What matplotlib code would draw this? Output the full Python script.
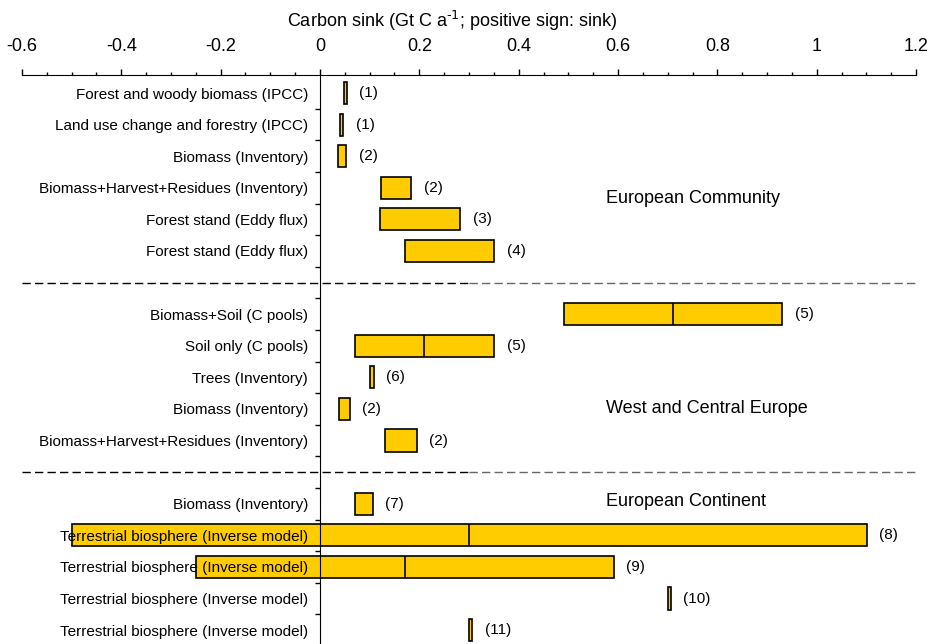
import numpy as np
import matplotlib
matplotlib.use('Agg')
import matplotlib.pyplot as plt
from matplotlib.ticker import FuncFormatter, MultipleLocator

plt.rcParams['font.family'] = ['Liberation Sans', 'DejaVu Sans']
plt.rcParams['mathtext.default'] = 'regular'
plt.rcParams['axes.unicode_minus'] = False

# 数据：三个区域，每行一个估计区间（最小值、最大值、中值）
regions = ['European Community', 'West and Central Europe', 'European Continent']
labels = [
    ['Forest and woody biomass (IPCC)', 'Land use change and forestry (IPCC)',
     'Biomass (Inventory)', 'Biomass+Harvest+Residues (Inventory)',
     'Forest stand (Eddy flux)', 'Forest stand (Eddy flux)'],
    ['Biomass+Soil (C pools)', 'Soil only (C pools)', 'Trees (Inventory)',
     'Biomass (Inventory)', 'Biomass+Harvest+Residues (Inventory)'],
    ['Biomass (Inventory)', 'Terrestrial biosphere (Inverse model)',
     'Terrestrial biosphere (Inverse model)', 'Terrestrial biosphere (Inverse model)',
     'Terrestrial biosphere (Inverse model)'],
]
lo = [
    [0.048, 0.041, 0.036, 0.123, 0.120, 0.171],
    [0.491, 0.071, 0.101, 0.039, 0.131],
    [0.071, -0.500, -0.249, 0.700, 0.300],
]
hi = [
    [0.054, 0.047, 0.053, 0.184, 0.282, 0.351],
    [0.931, 0.351, 0.108, 0.060, 0.195],
    [0.106, 1.101, 0.591, 0.706, 0.307],
]
med = [
    [np.nan] * 6,
    [0.711, 0.210, np.nan, np.nan, np.nan],
    [np.nan, 0.300, 0.171, np.nan, np.nan],
]
refs = [
    ['(1)', '(1)', '(2)', '(2)', '(3)', '(4)'],
    ['(5)', '(5)', '(6)', '(2)', '(2)'],
    ['(7)', '(8)', '(9)', '(10)', '(11)'],
]

# 行位置：每个区域之间空出一行放虚线
rows, seps = [], []
pos = 0
for g in labels:
    rows.append(np.arange(pos, pos + len(g)))
    pos += len(g)
    seps.append(pos)
    pos += 1
seps = seps[:-1]

fig = plt.figure(figsize=(9.35, 6.44), dpi=100)
ax = fig.add_axes([22 / 935, 0, 894 / 935, 569 / 644])

yellow = '#FFCC00'
for r, l, h, m, t in zip(rows, lo, hi, med, refs):
    l = np.array(l)
    h = np.array(h)
    m = np.array(m)
    ax.barh(r, h - l, left=l, height=0.7, color=yellow, edgecolor='black', linewidth=1.2, zorder=1)
    ok = ~np.isnan(m)
    ax.vlines(m[ok], r[ok] - 0.35, r[ok] + 0.35, color='black', linewidth=1.2, zorder=1.5)
    for yy, xx, s in zip(r, h, t):
        ax.annotate(s, (xx, yy), xytext=(9, 0), textcoords='offset points',
                    va='center', ha='left', fontsize=11)

# 分隔虚线
for s in seps:
    ax.hlines(s, -0.6, 0.3, colors='black', linestyles=(0, (6, 3)), linewidth=1.0)
    ax.hlines(s, 0.3, 1.2, colors='#666666', linestyles=(0, (6, 3)), linewidth=1.0)

# 区域名称
region_y = [3.35, 10.0, 12.94]
for name, yy in zip(regions, region_y):
    ax.text(0.575, yy, name, fontsize=13, va='center', ha='left')

ax.set_xlim(-0.6, 1.2)
ax.set_ylim(17.44, -0.57)

# x 轴在上方
ax.xaxis.tick_top()
ax.xaxis.set_label_position('top')
ax.xaxis.set_major_locator(MultipleLocator(0.2))
ax.xaxis.set_minor_locator(MultipleLocator(0.05))
ax.xaxis.set_major_formatter(FuncFormatter(lambda v, p: f'{v:.1f}'.rstrip('0').rstrip('.') if abs(v) > 1e-9 else '0'))
ax.tick_params(axis='x', which='major', direction='out', length=4.5, width=1, labelsize=13, pad=10)
ax.tick_params(axis='x', which='minor', direction='out', length=2.5, width=1)
ax.set_xlabel(r'Carbon sink (Gt C a$^{\text{-1}}$; positive sign: sink)', fontsize=13, labelpad=8)
ax.xaxis.label.set_x((452 - 22) / 894)

# y 轴放在 x=0 处
all_rows = np.concatenate(rows)
all_labels = sum(labels, [])
ax.spines['left'].set_position(('data', 0))
ax.spines['right'].set_visible(False)
ax.spines['bottom'].set_visible(False)
ax.set_yticks(np.arange(0.5, 17, 1.0))
ax.set_yticklabels([])
ax.set_yticks(all_rows, all_labels, minor=True)
ax.tick_params(axis='y', which='major', direction='out', length=3.6, width=1)
ax.tick_params(axis='y', which='minor', length=0, labelsize=11, pad=8.5)

plt.savefig('out.png', dpi=100)
